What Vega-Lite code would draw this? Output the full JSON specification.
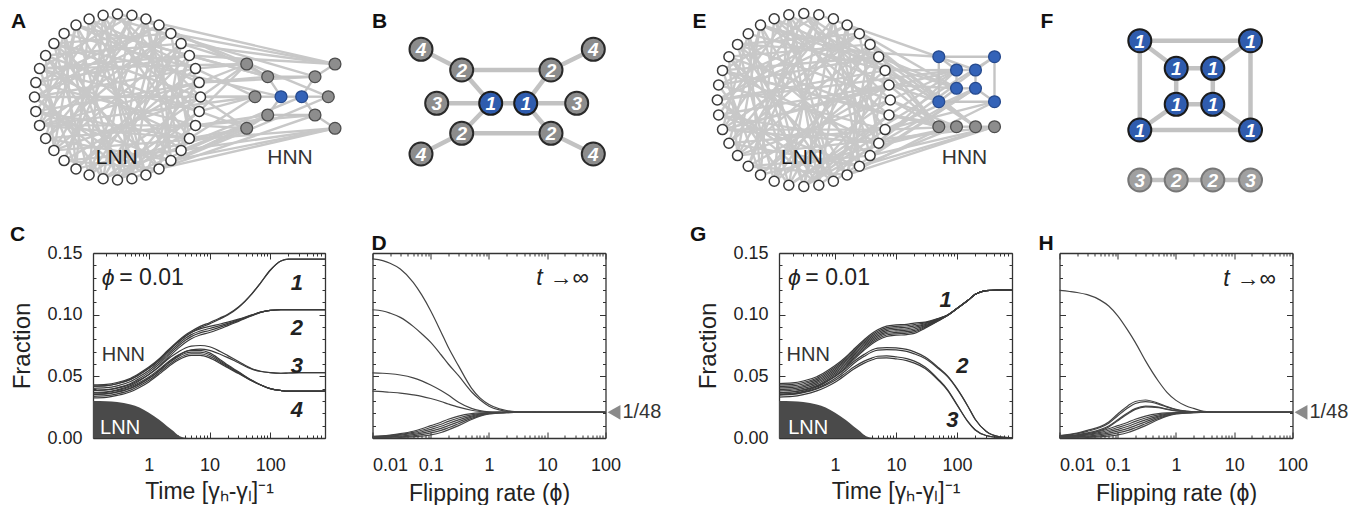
{
"$schema":"https://vega.github.io/schema/vega-lite/v6.json",
"background":"white",
"padding":{"left":10,"top":0,"right":0,"bottom":0},
"config":{
 "font":"Liberation Sans",
 "view":{"stroke":null},
 "axis":{"domainColor":"#333333","domainWidth":1.3,"tickColor":"#333333","tickWidth":1,"labelFontSize":18,"labelColor":"#222222","titleFontSize":23,"titleFontWeight":"normal","titleColor":"#222222","grid":false},
 "title":{"fontSize":21,"fontWeight":"bold","color":"#111111","anchor":"start","frame":"group"}
},
"resolve":{"scale":{"fill":"independent","stroke":"independent"}},
"datasets":{
"nodesA":[{"id":0,"x":200.5,"y":97},{"id":1,"x":199.2,"y":82.6},{"id":2,"x":195.5,"y":68.6},{"id":3,"x":189.4,"y":55.5},{"id":4,"x":181.1,"y":43.6},{"id":5,"x":170.9,"y":33.4},{"id":6,"x":159,"y":25.1},{"id":7,"x":145.9,"y":19},{"id":8,"x":131.9,"y":15.3},{"id":9,"x":117.5,"y":14},{"id":10,"x":103.1,"y":15.3},{"id":11,"x":89.1,"y":19},{"id":12,"x":76,"y":25.1},{"id":13,"x":64.1,"y":33.4},{"id":14,"x":53.9,"y":43.6},{"id":15,"x":45.6,"y":55.5},{"id":16,"x":39.5,"y":68.6},{"id":17,"x":35.8,"y":82.6},{"id":18,"x":34.5,"y":97},{"id":19,"x":35.8,"y":111.4},{"id":20,"x":39.5,"y":125.4},{"id":21,"x":45.6,"y":138.5},{"id":22,"x":53.9,"y":150.4},{"id":23,"x":64.1,"y":160.6},{"id":24,"x":76,"y":168.9},{"id":25,"x":89.1,"y":175},{"id":26,"x":103.1,"y":178.7},{"id":27,"x":117.5,"y":180},{"id":28,"x":131.9,"y":178.7},{"id":29,"x":145.9,"y":175},{"id":30,"x":159,"y":168.9},{"id":31,"x":170.9,"y":160.6},{"id":32,"x":181.1,"y":150.4},{"id":33,"x":189.4,"y":138.5},{"id":34,"x":195.5,"y":125.4},{"id":35,"x":199.2,"y":111.4},
{"id":100,"x":281,"y":96.7,"k":"b"},{"id":101,"x":301.7,"y":96.7,"k":"b"},{"id":102,"x":255,"y":96.7,"k":"g"},{"id":103,"x":328.3,"y":96.7,"k":"g"},{"id":104,"x":267.7,"y":76.7,"k":"g"},{"id":105,"x":267.7,"y":115,"k":"g"},{"id":106,"x":315,"y":76.7,"k":"g"},{"id":107,"x":315,"y":115,"k":"g"},{"id":108,"x":246.7,"y":64,"k":"g"},{"id":109,"x":246.7,"y":128.3,"k":"g"},{"id":110,"x":335,"y":64,"k":"g"},{"id":111,"x":335,"y":128.3,"k":"g"}],
"nodesE":[{"id":0,"x":889.8,"y":100},{"id":1,"x":888.5,"y":85},{"id":2,"x":884.6,"y":70.4},{"id":3,"x":878.2,"y":56.8},{"id":4,"x":869.6,"y":44.4},{"id":5,"x":858.9,"y":33.7},{"id":6,"x":846.6,"y":25.1},{"id":7,"x":832.9,"y":18.7},{"id":8,"x":818.3,"y":14.8},{"id":9,"x":803.3,"y":13.5},{"id":10,"x":788.3,"y":14.8},{"id":11,"x":773.7,"y":18.7},{"id":12,"x":760,"y":25.1},{"id":13,"x":747.7,"y":33.7},{"id":14,"x":737,"y":44.4},{"id":15,"x":728.4,"y":56.8},{"id":16,"x":722,"y":70.4},{"id":17,"x":718.1,"y":85},{"id":18,"x":716.8,"y":100},{"id":19,"x":718.1,"y":115},{"id":20,"x":722,"y":129.6},{"id":21,"x":728.4,"y":143.2},{"id":22,"x":737,"y":155.6},{"id":23,"x":747.7,"y":166.3},{"id":24,"x":760,"y":174.9},{"id":25,"x":773.7,"y":181.3},{"id":26,"x":788.3,"y":185.2},{"id":27,"x":803.3,"y":186.5},{"id":28,"x":818.3,"y":185.2},{"id":29,"x":832.9,"y":181.3},{"id":30,"x":846.6,"y":174.9},{"id":31,"x":858.9,"y":166.3},{"id":32,"x":869.6,"y":155.6},{"id":33,"x":878.2,"y":143.2},{"id":34,"x":884.6,"y":129.6},{"id":35,"x":888.5,"y":115},
{"id":100,"x":938.3,"y":56.7,"k":"b"},{"id":101,"x":994,"y":56.7,"k":"b"},{"id":102,"x":956,"y":70,"k":"b"},{"id":103,"x":975,"y":70,"k":"b"},{"id":104,"x":956,"y":88.3,"k":"b"},{"id":105,"x":975,"y":88.3,"k":"b"},{"id":106,"x":938.3,"y":101.7,"k":"b"},{"id":107,"x":994,"y":101.7,"k":"b"},{"id":108,"x":938.3,"y":126.7,"k":"g"},{"id":109,"x":956,"y":126.7,"k":"g"},{"id":110,"x":975,"y":126.7,"k":"g"},{"id":111,"x":994,"y":126.7,"k":"g"}],
"lnnEdges":[{"s":0,"t":14},{"s":0,"t":22},{"s":1,"t":19},{"s":1,"t":27},{"s":2,"t":11},{"s":2,"t":24},{"s":3,"t":17},{"s":3,"t":30},{"s":4,"t":15},{"s":4,"t":25},{"s":5,"t":20},{"s":5,"t":33},{"s":6,"t":18},{"s":6,"t":28},{"s":7,"t":21},{"s":7,"t":31},{"s":8,"t":16},{"s":8,"t":26},{"s":9,"t":23},{"s":9,"t":34},{"s":10,"t":19},{"s":10,"t":29},{"s":11,"t":24},{"s":11,"t":35},{"s":12,"t":21},{"s":12,"t":30},{"s":13,"t":27},{"s":13,"t":2},{"s":14,"t":25},{"s":14,"t":32},{"s":15,"t":28},{"s":15,"t":35},{"s":16,"t":24},{"s":16,"t":33},{"s":17,"t":26},{"s":17,"t":6},{"s":18,"t":29},{"s":18,"t":5},{"s":19,"t":31},{"s":20,"t":1},{"s":20,"t":9},{"s":21,"t":34},{"s":22,"t":4},{"s":22,"t":12},{"s":23,"t":32},{"s":23,"t":8},{"s":24,"t":3},{"s":25,"t":7},{"s":26,"t":13},{"s":27,"t":35},{"s":28,"t":10},{"s":29,"t":3},{"s":30,"t":15},{"s":31,"t":11},{"s":32,"t":2},{"s":33,"t":20},{"s":34,"t":9},{"s":35,"t":16},{"s":0,"t":9},{"s":4,"t":30},{"s":8,"t":22},{"s":12,"t":27},{"s":16,"t":3},{"s":20,"t":34},{"s":24,"t":13},{"s":28,"t":18},{"s":32,"t":7},{"s":35,"t":26},{"s":1,"t":12},{"s":5,"t":14},{"s":10,"t":25},{"s":19,"t":33},{"s":23,"t":1},{"s":27,"t":6},{"s":31,"t":21},{"s":3,"t":12},{"s":7,"t":27},{"s":11,"t":29},{"s":15,"t":22},{"s":21,"t":5},{"s":25,"t":0},{"s":29,"t":14},{"s":33,"t":10},{"s":2,"t":18},{"s":6,"t":31},{"s":13,"t":20},{"s":17,"t":34},{"s":26,"t":4},{"s":30,"t":23},{"s":34,"t":27},
{"s":0,"t":102},{"s":0,"t":108},{"s":1,"t":108},{"s":1,"t":104},{"s":2,"t":108},{"s":3,"t":110},{"s":35,"t":102},{"s":35,"t":109},{"s":34,"t":109},{"s":34,"t":105},{"s":33,"t":109},{"s":32,"t":111},{"s":4,"t":110},{"s":5,"t":110},{"s":31,"t":111},{"s":30,"t":111},{"s":6,"t":104},{"s":29,"t":105},{"s":2,"t":102},{"s":33,"t":102},{"s":3,"t":104},{"s":32,"t":105},{"s":0,"t":109},{"s":35,"t":108},{"s":1,"t":106},{"s":34,"t":107},{"s":4,"t":108},{"s":31,"t":109},{"s":20,"t":102},{"s":16,"t":108},{"s":24,"t":109},{"s":12,"t":104},{"s":27,"t":105},{"s":9,"t":110},{"s":18,"t":102},{"s":22,"t":111},{"s":14,"t":100},{"s":26,"t":101},{"s":8,"t":103},{"s":28,"t":103},{"s":10,"t":106},{"s":30,"t":107}],
"hnnEdgesA":[{"s":100,"t":101},{"s":100,"t":102},{"s":100,"t":104},{"s":100,"t":105},{"s":101,"t":103},{"s":101,"t":106},{"s":101,"t":107},{"s":104,"t":106},{"s":105,"t":107},{"s":104,"t":108},{"s":105,"t":109},{"s":106,"t":110},{"s":107,"t":111}],
"hnnEdgesE":[{"s":100,"t":101},{"s":101,"t":107},{"s":107,"t":106},{"s":106,"t":100},{"s":102,"t":103},{"s":103,"t":105},{"s":105,"t":104},{"s":104,"t":102},{"s":100,"t":102},{"s":101,"t":103},{"s":106,"t":104},{"s":107,"t":105},{"s":108,"t":109},{"s":109,"t":110},{"s":110,"t":111}],
"nodesB":[{"id":1,"x":421,"y":49.3,"k":"g","lab":"4"},{"id":2,"x":461.7,"y":70,"k":"g","lab":"2"},{"id":3,"x":436.7,"y":103.3,"k":"g","lab":"3"},{"id":4,"x":490.7,"y":103.3,"k":"b","lab":"1"},{"id":5,"x":525.7,"y":103.3,"k":"b","lab":"1"},{"id":6,"x":576.7,"y":103.3,"k":"g","lab":"3"},{"id":7,"x":551,"y":70,"k":"g","lab":"2"},{"id":8,"x":593.3,"y":49.3,"k":"g","lab":"4"},{"id":9,"x":461.7,"y":133.3,"k":"g","lab":"2"},{"id":10,"x":421,"y":154,"k":"g","lab":"4"},{"id":11,"x":551,"y":133.3,"k":"g","lab":"2"},{"id":12,"x":593.3,"y":154,"k":"g","lab":"4"}],
"edgesB":[{"s":4,"t":5},{"s":3,"t":4},{"s":4,"t":2},{"s":4,"t":9},{"s":5,"t":6},{"s":5,"t":7},{"s":5,"t":11},{"s":2,"t":7},{"s":9,"t":11},{"s":1,"t":2},{"s":9,"t":10},{"s":7,"t":8},{"s":11,"t":12}],
"nodesF":[{"id":1,"x":1139.3,"y":40.7,"k":"b","lab":"1"},{"id":2,"x":1250,"y":40.7,"k":"b","lab":"1"},{"id":3,"x":1175.7,"y":68.3,"k":"b","lab":"1"},{"id":4,"x":1212.3,"y":68.3,"k":"b","lab":"1"},{"id":5,"x":1175.7,"y":104.3,"k":"b","lab":"1"},{"id":6,"x":1212.3,"y":104.3,"k":"b","lab":"1"},{"id":7,"x":1139.3,"y":130,"k":"b","lab":"1"},{"id":8,"x":1250,"y":130,"k":"b","lab":"1"},{"id":9,"x":1139.3,"y":180,"k":"w","lab":"3"},{"id":10,"x":1175.7,"y":180,"k":"w","lab":"2"},{"id":11,"x":1212.3,"y":180,"k":"w","lab":"2"},{"id":12,"x":1250,"y":180,"k":"w","lab":"3"}],
"edgesF":[{"s":1,"t":2},{"s":2,"t":8},{"s":8,"t":7},{"s":7,"t":1},{"s":3,"t":4},{"s":4,"t":6},{"s":6,"t":5},{"s":5,"t":3},{"s":1,"t":3},{"s":2,"t":4},{"s":7,"t":5},{"s":8,"t":6},{"s":9,"t":10},{"s":10,"t":11},{"s":11,"t":12}],
"lnnT":[{"t":0.12,"v":0.03},{"t":0.2,"v":0.0298},{"t":0.3,"v":0.0292},{"t":0.5,"v":0.0272},{"t":0.7,"v":0.0247},{"t":1,"v":0.0205},{"t":1.5,"v":0.0145},{"t":2,"v":0.0095},{"t":2.5,"v":0.0058},{"t":3,"v":0.0025},{"t":3.5,"v":0.0009},{"t":4,"v":0.0002},{"t":5,"v":0},{"t":800,"v":0}],
"cT":[
{"t":0.12,"a":0.043,"b":0.042,"c":0.042,"d":0.0403,"e":0.0387,"f":0.037,"g":0.0385,"h":0.0355,"i":0.0365,"j":0.0352,"k":0.0338,"l":0.0325},
{"t":0.2,"a":0.0435,"b":0.0425,"c":0.0425,"d":0.0408,"e":0.0392,"f":0.0375,"g":0.039,"h":0.036,"i":0.037,"j":0.0357,"k":0.0343,"l":0.033},
{"t":0.3,"a":0.045,"b":0.044,"c":0.044,"d":0.0423,"e":0.0407,"f":0.039,"g":0.0405,"h":0.0375,"i":0.0385,"j":0.0372,"k":0.0358,"l":0.0345},
{"t":0.5,"a":0.0485,"b":0.0475,"c":0.0475,"d":0.0458,"e":0.0442,"f":0.0425,"g":0.0435,"h":0.0405,"i":0.0415,"j":0.0402,"k":0.0388,"l":0.0375},
{"t":0.7,"a":0.0525,"b":0.0515,"c":0.0515,"d":0.0498,"e":0.0482,"f":0.0465,"g":0.047,"h":0.044,"i":0.045,"j":0.0437,"k":0.0423,"l":0.041},
{"t":1,"a":0.0575,"b":0.0565,"c":0.0565,"d":0.0548,"e":0.0532,"f":0.0515,"g":0.0515,"h":0.0485,"i":0.0495,"j":0.0482,"k":0.0468,"l":0.0455},
{"t":1.5,"a":0.0645,"b":0.0635,"c":0.0635,"d":0.0618,"e":0.0602,"f":0.0585,"g":0.058,"h":0.055,"i":0.056,"j":0.0547,"k":0.0533,"l":0.052},
{"t":2,"a":0.0705,"b":0.0695,"c":0.0695,"d":0.0678,"e":0.0662,"f":0.0645,"g":0.0635,"h":0.0605,"i":0.061,"j":0.0597,"k":0.0583,"l":0.057},
{"t":3,"a":0.0785,"b":0.0775,"c":0.0775,"d":0.0758,"e":0.0742,"f":0.0725,"g":0.0695,"h":0.0665,"i":0.067,"j":0.0657,"k":0.0643,"l":0.063},
{"t":4,"a":0.0835,"b":0.0825,"c":0.0825,"d":0.0808,"e":0.0792,"f":0.0775,"g":0.073,"h":0.07,"i":0.07,"j":0.0687,"k":0.0673,"l":0.066},
{"t":5,"a":0.0865,"b":0.0855,"c":0.0855,"d":0.0838,"e":0.0822,"f":0.0805,"g":0.0745,"h":0.0715,"i":0.071,"j":0.0697,"k":0.0683,"l":0.067},
{"t":7,"a":0.0905,"b":0.0895,"c":0.0885,"d":0.0868,"e":0.0852,"f":0.0835,"g":0.075,"h":0.072,"i":0.071,"j":0.0697,"k":0.0683,"l":0.067},
{"t":10,"a":0.0935,"b":0.0925,"c":0.0905,"d":0.0888,"e":0.0872,"f":0.0855,"g":0.074,"h":0.071,"i":0.069,"j":0.0677,"k":0.0663,"l":0.065},
{"t":15,"a":0.0974,"b":0.0966,"c":0.0924,"d":0.0911,"e":0.0899,"f":0.0886,"g":0.0701,"h":0.0679,"i":0.0635,"j":0.0625,"k":0.0615,"l":0.0605},
{"t":20,"a":0.1003,"b":0.0997,"c":0.0939,"d":0.0929,"e":0.0921,"f":0.0911,"g":0.0668,"h":0.0652,"i":0.0591,"j":0.0584,"k":0.0576,"l":0.0569},
{"t":30,"a":0.1062,"b":0.1058,"c":0.0964,"d":0.0958,"e":0.0952,"f":0.0946,"g":0.062,"h":0.061,"i":0.0537,"j":0.0532,"k":0.0528,"l":0.0523},
{"t":50,"a":0.1171,"b":0.1169,"c":0.0999,"d":0.0996,"e":0.0994,"f":0.0991,"g":0.0562,"h":0.0558,"i":0.0468,"j":0.0466,"k":0.0464,"l":0.0462},
{"t":70,"a":0.126,"b":0.126,"c":0.1021,"d":0.102,"e":0.102,"f":0.1019,"g":0.0541,"h":0.0539,"i":0.043,"j":0.043,"k":0.043,"l":0.043},
{"t":100,"a":0.136,"b":0.136,"c":0.1035,"d":0.1035,"e":0.1035,"f":0.1035,"g":0.053,"h":0.053,"i":0.04,"j":0.04,"k":0.04,"l":0.04},
{"t":150,"a":0.1435,"b":0.1435,"c":0.104,"d":0.104,"e":0.104,"f":0.104,"g":0.0525,"h":0.0525,"i":0.0385,"j":0.0385,"k":0.0385,"l":0.0385},
{"t":200,"a":0.145,"b":0.145,"c":0.104,"d":0.104,"e":0.104,"f":0.104,"g":0.0527,"h":0.0527,"i":0.038,"j":0.038,"k":0.038,"l":0.038},
{"t":300,"a":0.145,"b":0.145,"c":0.104,"d":0.104,"e":0.104,"f":0.104,"g":0.053,"h":0.053,"i":0.038,"j":0.038,"k":0.038,"l":0.038},
{"t":500,"a":0.145,"b":0.145,"c":0.104,"d":0.104,"e":0.104,"f":0.104,"g":0.053,"h":0.053,"i":0.038,"j":0.038,"k":0.038,"l":0.038},
{"t":800,"a":0.145,"b":0.145,"c":0.104,"d":0.104,"e":0.104,"f":0.104,"g":0.053,"h":0.053,"i":0.038,"j":0.038,"k":0.038,"l":0.038}],
"gT":[
{"t":0.12,"a":0.0442,"b":0.043,"c":0.0418,"d":0.0406,"e":0.0394,"f":0.0382,"g":0.037,"h":0.0358,"i":0.0368,"j":0.0352,"k":0.0348,"l":0.0332},
{"t":0.2,"a":0.0447,"b":0.0435,"c":0.0423,"d":0.0411,"e":0.0399,"f":0.0387,"g":0.0375,"h":0.0363,"i":0.0373,"j":0.0357,"k":0.0353,"l":0.0337},
{"t":0.3,"a":0.0462,"b":0.045,"c":0.0438,"d":0.0426,"e":0.0414,"f":0.0402,"g":0.039,"h":0.0378,"i":0.0388,"j":0.0372,"k":0.0368,"l":0.0352},
{"t":0.5,"a":0.0497,"b":0.0485,"c":0.0473,"d":0.0461,"e":0.0449,"f":0.0437,"g":0.0425,"h":0.0413,"i":0.0418,"j":0.0402,"k":0.0398,"l":0.0382},
{"t":0.7,"a":0.0537,"b":0.0525,"c":0.0513,"d":0.0501,"e":0.0489,"f":0.0477,"g":0.0465,"h":0.0453,"i":0.0453,"j":0.0437,"k":0.0428,"l":0.0412},
{"t":1,"a":0.0587,"b":0.0575,"c":0.0563,"d":0.0551,"e":0.0539,"f":0.0527,"g":0.0515,"h":0.0503,"i":0.0498,"j":0.0482,"k":0.0468,"l":0.0452},
{"t":1.5,"a":0.0657,"b":0.0645,"c":0.0633,"d":0.0621,"e":0.0609,"f":0.0597,"g":0.0585,"h":0.0573,"i":0.0563,"j":0.0547,"k":0.0528,"l":0.0512},
{"t":2,"a":0.0717,"b":0.0705,"c":0.0693,"d":0.0681,"e":0.0669,"f":0.0657,"g":0.0645,"h":0.0633,"i":0.0618,"j":0.0602,"k":0.0573,"l":0.0557},
{"t":3,"a":0.0797,"b":0.0785,"c":0.0773,"d":0.0761,"e":0.0749,"f":0.0737,"g":0.0725,"h":0.0713,"i":0.0678,"j":0.0662,"k":0.0623,"l":0.0607},
{"t":4,"a":0.0847,"b":0.0835,"c":0.0823,"d":0.0811,"e":0.0799,"f":0.0787,"g":0.0775,"h":0.0763,"i":0.0713,"j":0.0697,"k":0.0648,"l":0.0632},
{"t":5,"a":0.0877,"b":0.0865,"c":0.0853,"d":0.0841,"e":0.0829,"f":0.0817,"g":0.0805,"h":0.0793,"i":0.0728,"j":0.0712,"k":0.0663,"l":0.0647},
{"t":7,"a":0.0907,"b":0.0895,"c":0.0883,"d":0.0871,"e":0.0859,"f":0.0847,"g":0.0835,"h":0.0823,"i":0.0733,"j":0.0717,"k":0.0666,"l":0.065},
{"t":10,"a":0.0917,"b":0.0905,"c":0.0893,"d":0.0881,"e":0.0869,"f":0.0857,"g":0.0845,"h":0.0833,"i":0.073,"j":0.0714,"k":0.0658,"l":0.0642},
{"t":15,"a":0.0922,"b":0.091,"c":0.0898,"d":0.0886,"e":0.0874,"f":0.0862,"g":0.085,"h":0.0838,"i":0.0718,"j":0.0702,"k":0.0643,"l":0.0627},
{"t":20,"a":0.0932,"b":0.092,"c":0.0908,"d":0.0896,"e":0.0884,"f":0.0872,"g":0.086,"h":0.0848,"i":0.0698,"j":0.0682,"k":0.0623,"l":0.0607},
{"t":30,"a":0.094,"b":0.0933,"c":0.0926,"d":0.0919,"e":0.0911,"f":0.0904,"g":0.0897,"h":0.089,"i":0.0656,"j":0.0644,"k":0.0576,"l":0.0564},
{"t":50,"a":0.0971,"b":0.0968,"c":0.0965,"d":0.0962,"e":0.0959,"f":0.0956,"g":0.0953,"h":0.095,"i":0.0569,"j":0.0561,"k":0.0474,"l":0.0466},
{"t":70,"a":0.0997,"b":0.0997,"c":0.0996,"d":0.0995,"e":0.0995,"f":0.0994,"g":0.0994,"h":0.0993,"i":0.0503,"j":0.0497,"k":0.0393,"l":0.0387},
{"t":100,"a":0.105,"b":0.105,"c":0.105,"d":0.105,"e":0.105,"f":0.105,"g":0.105,"h":0.105,"i":0.0402,"j":0.0398,"k":0.0272,"l":0.0268},
{"t":150,"a":0.1115,"b":0.1115,"c":0.1115,"d":0.1115,"e":0.1115,"f":0.1115,"g":0.1115,"h":0.1115,"i":0.026,"j":0.026,"k":0.0135,"l":0.0135},
{"t":200,"a":0.1165,"b":0.1165,"c":0.1165,"d":0.1165,"e":0.1165,"f":0.1165,"g":0.1165,"h":0.1165,"i":0.015,"j":0.015,"k":0.0065,"l":0.0065},
{"t":300,"a":0.1195,"b":0.1195,"c":0.1195,"d":0.1195,"e":0.1195,"f":0.1195,"g":0.1195,"h":0.1195,"i":0.0055,"j":0.0055,"k":0.002,"l":0.002},
{"t":500,"a":0.12,"b":0.12,"c":0.12,"d":0.12,"e":0.12,"f":0.12,"g":0.12,"h":0.12,"i":0.001,"j":0.001,"k":0.0003,"l":0.0003},
{"t":800,"a":0.12,"b":0.12,"c":0.12,"d":0.12,"e":0.12,"f":0.12,"g":0.12,"h":0.12,"i":0.0002,"j":0.0002,"k":0,"l":0}],
"dP":[
{"p":0.01,"c1":0.1452,"c2":0.104,"c3":0.0528,"c4":0.038},
{"p":0.015,"c1":0.1438,"c2":0.103,"c3":0.0525,"c4":0.0376},
{"p":0.02,"c1":0.1417,"c2":0.1012,"c3":0.0521,"c4":0.0371},
{"p":0.03,"c1":0.137,"c2":0.0978,"c3":0.0511,"c4":0.0364},
{"p":0.05,"c1":0.1262,"c2":0.0905,"c3":0.0488,"c4":0.035},
{"p":0.07,"c1":0.116,"c2":0.0845,"c3":0.0463,"c4":0.0338},
{"p":0.1,"c1":0.103,"c2":0.0775,"c3":0.043,"c4":0.032},
{"p":0.15,"c1":0.086,"c2":0.0675,"c3":0.0385,"c4":0.0296},
{"p":0.2,"c1":0.0735,"c2":0.06,"c3":0.0348,"c4":0.0276},
{"p":0.3,"c1":0.0585,"c2":0.0505,"c3":0.029,"c4":0.025},
{"p":0.5,"c1":0.0405,"c2":0.0375,"c3":0.024,"c4":0.0225},
{"p":0.7,"c1":0.0325,"c2":0.031,"c3":0.0222,"c4":0.0215},
{"p":1,"c1":0.0272,"c2":0.0258,"c3":0.0213,"c4":0.021},
{"p":1.5,"c1":0.0237,"c2":0.0228,"c3":0.021,"c4":0.0209},
{"p":2,"c1":0.0223,"c2":0.0217,"c3":0.0209,"c4":0.0208},
{"p":3,"c1":0.0213,"c2":0.0211,"c3":0.0208,"c4":0.0208},
{"p":5,"c1":0.0209,"c2":0.0209,"c3":0.0208,"c4":0.0208},
{"p":10,"c1":0.0208,"c2":0.0208,"c3":0.0208,"c4":0.0208},
{"p":100,"c1":0.0208,"c2":0.0208,"c3":0.0208,"c4":0.0208}],
"hP":[
{"p":0.01,"c1":0.1197,"c2a":0.002,"c2b":0.0017,"c3a":0.0012,"c3b":0.0009},
{"p":0.015,"c1":0.1188,"c2a":0.003,"c2b":0.0026,"c3a":0.0019,"c3b":0.0015},
{"p":0.02,"c1":0.118,"c2a":0.004,"c2b":0.0035,"c3a":0.0026,"c3b":0.0021},
{"p":0.03,"c1":0.1162,"c2a":0.0062,"c2b":0.0054,"c3a":0.0041,"c3b":0.0035},
{"p":0.05,"c1":0.1118,"c2a":0.0092,"c2b":0.0085,"c3a":0.0068,"c3b":0.006},
{"p":0.07,"c1":0.107,"c2a":0.013,"c2b":0.012,"c3a":0.0098,"c3b":0.009},
{"p":0.1,"c1":0.099,"c2a":0.0195,"c2b":0.018,"c3a":0.0148,"c3b":0.014},
{"p":0.15,"c1":0.087,"c2a":0.0262,"c2b":0.0245,"c3a":0.0205,"c3b":0.0197},
{"p":0.2,"c1":0.0775,"c2a":0.0296,"c2b":0.028,"c3a":0.0238,"c3b":0.0232},
{"p":0.3,"c1":0.0625,"c2a":0.0308,"c2b":0.0295,"c3a":0.0258,"c3b":0.0253},
{"p":0.5,"c1":0.046,"c2a":0.0282,"c2b":0.0275,"c3a":0.025,"c3b":0.0246},
{"p":0.7,"c1":0.037,"c2a":0.0255,"c2b":0.025,"c3a":0.0235,"c3b":0.0232},
{"p":1,"c1":0.0305,"c2a":0.0232,"c2b":0.0229,"c3a":0.0222,"c3b":0.022},
{"p":1.5,"c1":0.026,"c2a":0.0218,"c2b":0.0217,"c3a":0.0213,"c3b":0.0212},
{"p":2,"c1":0.024,"c2a":0.0213,"c2b":0.0212,"c3a":0.021,"c3b":0.021},
{"p":3,"c1":0.0217,"c2a":0.021,"c2b":0.0209,"c3a":0.0209,"c3b":0.0209},
{"p":5,"c1":0.021,"c2a":0.0208,"c2b":0.0208,"c3a":0.0208,"c3b":0.0208},
{"p":10,"c1":0.0208,"c2a":0.0208,"c2b":0.0208,"c3a":0.0208,"c3b":0.0208},
{"p":100,"c1":0.0208,"c2a":0.0208,"c2b":0.0208,"c3a":0.0208,"c3b":0.0208}],
"lnnP":[
{"p":0.01,"l1":0.0013,"l2":0.0011,"l3":0.0008,"l4":0.0006,"l5":0.0003,"l6":0.0001},
{"p":0.015,"l1":0.0018,"l2":0.0015,"l3":0.0011,"l4":0.0008,"l5":0.0005,"l6":0.0002},
{"p":0.02,"l1":0.0024,"l2":0.002,"l3":0.0015,"l4":0.0011,"l5":0.0006,"l6":0.0002},
{"p":0.03,"l1":0.0035,"l2":0.0029,"l3":0.0023,"l4":0.0016,"l5":0.001,"l6":0.0004},
{"p":0.05,"l1":0.0055,"l2":0.0046,"l3":0.0037,"l4":0.0027,"l5":0.0018,"l6":0.0009},
{"p":0.07,"l1":0.0075,"l2":0.0063,"l3":0.0051,"l4":0.0039,"l5":0.0027,"l6":0.0015},
{"p":0.1,"l1":0.01,"l2":0.0085,"l3":0.007,"l4":0.0056,"l5":0.0041,"l6":0.0026},
{"p":0.15,"l1":0.0128,"l2":0.0111,"l3":0.0095,"l4":0.0078,"l5":0.0062,"l6":0.0045},
{"p":0.2,"l1":0.0152,"l2":0.0135,"l3":0.0118,"l4":0.01,"l5":0.0083,"l6":0.0066},
{"p":0.3,"l1":0.0178,"l2":0.0162,"l3":0.0147,"l4":0.0131,"l5":0.0116,"l6":0.01},
{"p":0.5,"l1":0.0197,"l2":0.0188,"l3":0.0178,"l4":0.0169,"l5":0.0159,"l6":0.015},
{"p":0.7,"l1":0.0203,"l2":0.0198,"l3":0.0193,"l4":0.0187,"l5":0.0182,"l6":0.0177},
{"p":1,"l1":0.0206,"l2":0.0204,"l3":0.0202,"l4":0.0199,"l5":0.0197,"l6":0.0195},
{"p":1.5,"l1":0.0207,"l2":0.0206,"l3":0.0205,"l4":0.0205,"l5":0.0204,"l6":0.0203},
{"p":2,"l1":0.0208,"l2":0.0208,"l3":0.0207,"l4":0.0207,"l5":0.0206,"l6":0.0206},
{"p":3,"l1":0.0208,"l2":0.0208,"l3":0.0208,"l4":0.0207,"l5":0.0207,"l6":0.0207},
{"p":5,"l1":0.0208,"l2":0.0208,"l3":0.0208,"l4":0.0208,"l5":0.0208,"l6":0.0208},
{"p":100,"l1":0.0208,"l2":0.0208,"l3":0.0208,"l4":0.0208,"l5":0.0208,"l6":0.0208}]
},
"columns":4,
"spacing":{"row":48,"column":47.5},
"align":"each",
"bounds":"flush",
"concat":[
{"width":232,"height":205,
 "layer":[
  {"data":{"name":"lnnEdges"},"transform":[{"lookup":"s","from":{"data":{"name":"nodesA"},"key":"id","fields":["x","y"]},"as":["x1","y1"]},{"lookup":"t","from":{"data":{"name":"nodesA"},"key":"id","fields":["x","y"]},"as":["x2","y2"]}],
   "mark":{"type":"rule","color":"#c8c8c8","strokeWidth":2.4},
   "encoding":{"x":{"field":"x1","type":"quantitative","scale":{"domain":[93,325],"nice":false,"zero":false},"axis":null},"y":{"field":"y1","type":"quantitative","scale":{"domain":[0,205],"nice":false,"zero":false,"reverse":true},"axis":null},"x2":{"field":"x2"},"y2":{"field":"y2"}}},
  {"data":{"name":"hnnEdgesA"},"transform":[{"lookup":"s","from":{"data":{"name":"nodesA"},"key":"id","fields":["x","y"]},"as":["x1","y1"]},{"lookup":"t","from":{"data":{"name":"nodesA"},"key":"id","fields":["x","y"]},"as":["x2","y2"]}],
   "mark":{"type":"rule","color":"#c4c4c4","strokeWidth":2.4},
   "encoding":{"x":{"field":"x1","type":"quantitative","scale":{"domain":[93,325],"nice":false,"zero":false},"axis":null},"y":{"field":"y1","type":"quantitative","scale":{"domain":[0,205],"nice":false,"zero":false,"reverse":true},"axis":null},"x2":{"field":"x2"},"y2":{"field":"y2"}}},
  {"data":{"name":"nodesA"},"transform":[{"filter":"datum.id < 100"}],
   "mark":{"type":"point","shape":"circle","filled":true,"fill":"#ffffff","stroke":"#3a3a3a","strokeWidth":1.5,"size":100,"opacity":1},
   "encoding":{"x":{"field":"x","type":"quantitative","scale":{"domain":[93,325],"nice":false,"zero":false},"axis":null},"y":{"field":"y","type":"quantitative","scale":{"domain":[0,205],"nice":false,"zero":false,"reverse":true},"axis":null}}},
  {"data":{"name":"nodesA"},"transform":[{"filter":"datum.id >= 100"}],
   "mark":{"type":"point","shape":"circle","filled":true,"strokeWidth":1.3,"size":140,"opacity":1},
   "encoding":{"x":{"field":"x","type":"quantitative","scale":{"domain":[93,325],"nice":false,"zero":false},"axis":null},"y":{"field":"y","type":"quantitative","scale":{"domain":[0,205],"nice":false,"zero":false,"reverse":true},"axis":null},
    "fill":{"field":"k","type":"nominal","scale":{"domain":["b","g"],"range":["#3463b8","#8d8d8d"]},"legend":null},
    "stroke":{"field":"k","type":"nominal","scale":{"domain":["b","g"],"range":["#264a8e","#4d4d4d"]},"legend":null}}},
  {"data":{"values":[{}]},"mark":{"type":"text","text":"LNN","fontSize":21,"color":"#1a1a1a","align":"center","baseline":"middle"},
   "encoding":{"x":{"datum":116.7,"type":"quantitative","scale":{"domain":[93,325],"nice":false,"zero":false},"axis":null},"y":{"datum":157.5,"type":"quantitative","scale":{"domain":[0,205],"nice":false,"zero":false,"reverse":true},"axis":null}}},
  {"data":{"values":[{}]},"mark":{"type":"text","text":"HNN","fontSize":21,"color":"#333333","align":"center","baseline":"middle"},
   "encoding":{"x":{"datum":290,"type":"quantitative","scale":{"domain":[93,325],"nice":false,"zero":false},"axis":null},"y":{"datum":157.5,"type":"quantitative","scale":{"domain":[0,205],"nice":false,"zero":false,"reverse":true},"axis":null}}},
  {"data":{"values":[{}]},"mark":{"type":"text","text":"A","fontSize":21,"fontWeight":"bold","color":"#111111","align":"left","baseline":"alphabetic"},
   "encoding":{"x":{"datum":11,"type":"quantitative","scale":{"domain":[93,325],"nice":false,"zero":false},"axis":null},"y":{"datum":28,"type":"quantitative","scale":{"domain":[0,205],"nice":false,"zero":false,"reverse":true},"axis":null}}}
 ]},
{"width":358.5,"height":205,
 "layer":[
  {"data":{"name":"edgesB"},"transform":[{"lookup":"s","from":{"data":{"name":"nodesB"},"key":"id","fields":["x","y"]},"as":["x1","y1"]},{"lookup":"t","from":{"data":{"name":"nodesB"},"key":"id","fields":["x","y"]},"as":["x2","y2"]}],
   "mark":{"type":"rule","color":"#c2c2c2","strokeWidth":4.5},
   "encoding":{"x":{"field":"x1","type":"quantitative","scale":{"domain":[372.5,731],"nice":false,"zero":false},"axis":null},"y":{"field":"y1","type":"quantitative","scale":{"domain":[0,205],"nice":false,"zero":false,"reverse":true},"axis":null},"x2":{"field":"x2"},"y2":{"field":"y2"}}},
  {"data":{"name":"nodesB"},
   "mark":{"type":"point","shape":"circle","filled":true,"strokeWidth":2,"size":530,"opacity":1},
   "encoding":{"x":{"field":"x","type":"quantitative","scale":{"domain":[372.5,731],"nice":false,"zero":false},"axis":null},"y":{"field":"y","type":"quantitative","scale":{"domain":[0,205],"nice":false,"zero":false,"reverse":true},"axis":null},
    "fill":{"field":"k","type":"nominal","scale":{"domain":["b","g"],"range":["#2f5cae","#8c8c8c"]},"legend":null},
    "stroke":{"field":"k","type":"nominal","scale":{"domain":["b","g"],"range":["#1c1c1c","#2a2a2a"]},"legend":null}}},
  {"data":{"name":"nodesB"},
   "mark":{"type":"text","fontSize":19,"fontWeight":"bold","fontStyle":"italic","color":"#ffffff","align":"center","baseline":"middle","dy":1},
   "encoding":{"x":{"field":"x","type":"quantitative","scale":{"domain":[372.5,731],"nice":false,"zero":false},"axis":null},"y":{"field":"y","type":"quantitative","scale":{"domain":[0,205],"nice":false,"zero":false,"reverse":true},"axis":null},"text":{"field":"lab"}}},
  {"data":{"values":[{}]},"mark":{"type":"text","text":"B","fontSize":21,"fontWeight":"bold","color":"#111111","align":"left","baseline":"alphabetic"},
   "encoding":{"x":{"datum":372,"type":"quantitative","scale":{"domain":[372.5,731],"nice":false,"zero":false},"axis":null},"y":{"datum":28,"type":"quantitative","scale":{"domain":[0,205],"nice":false,"zero":false,"reverse":true},"axis":null}}}
 ]},
{"width":233,"height":205,
 "layer":[
  {"data":{"name":"lnnEdges"},"transform":[{"lookup":"s","from":{"data":{"name":"nodesE"},"key":"id","fields":["x","y"]},"as":["x1","y1"]},{"lookup":"t","from":{"data":{"name":"nodesE"},"key":"id","fields":["x","y"]},"as":["x2","y2"]}],
   "mark":{"type":"rule","color":"#c8c8c8","strokeWidth":2.4},
   "encoding":{"x":{"field":"x1","type":"quantitative","scale":{"domain":[778.5,1011.5],"nice":false,"zero":false},"axis":null},"y":{"field":"y1","type":"quantitative","scale":{"domain":[0,205],"nice":false,"zero":false,"reverse":true},"axis":null},"x2":{"field":"x2"},"y2":{"field":"y2"}}},
  {"data":{"name":"hnnEdgesE"},"transform":[{"lookup":"s","from":{"data":{"name":"nodesE"},"key":"id","fields":["x","y"]},"as":["x1","y1"]},{"lookup":"t","from":{"data":{"name":"nodesE"},"key":"id","fields":["x","y"]},"as":["x2","y2"]}],
   "mark":{"type":"rule","color":"#c4c4c4","strokeWidth":2.4},
   "encoding":{"x":{"field":"x1","type":"quantitative","scale":{"domain":[778.5,1011.5],"nice":false,"zero":false},"axis":null},"y":{"field":"y1","type":"quantitative","scale":{"domain":[0,205],"nice":false,"zero":false,"reverse":true},"axis":null},"x2":{"field":"x2"},"y2":{"field":"y2"}}},
  {"data":{"name":"nodesE"},"transform":[{"filter":"datum.id < 100"}],
   "mark":{"type":"point","shape":"circle","filled":true,"fill":"#ffffff","stroke":"#3a3a3a","strokeWidth":1.5,"size":100,"opacity":1},
   "encoding":{"x":{"field":"x","type":"quantitative","scale":{"domain":[778.5,1011.5],"nice":false,"zero":false},"axis":null},"y":{"field":"y","type":"quantitative","scale":{"domain":[0,205],"nice":false,"zero":false,"reverse":true},"axis":null}}},
  {"data":{"name":"nodesE"},"transform":[{"filter":"datum.id >= 100"}],
   "mark":{"type":"point","shape":"circle","filled":true,"strokeWidth":1.3,"size":140,"opacity":1},
   "encoding":{"x":{"field":"x","type":"quantitative","scale":{"domain":[778.5,1011.5],"nice":false,"zero":false},"axis":null},"y":{"field":"y","type":"quantitative","scale":{"domain":[0,205],"nice":false,"zero":false,"reverse":true},"axis":null},
    "fill":{"field":"k","type":"nominal","scale":{"domain":["b","g"],"range":["#3463b8","#8d8d8d"]},"legend":null},
    "stroke":{"field":"k","type":"nominal","scale":{"domain":["b","g"],"range":["#264a8e","#4d4d4d"]},"legend":null}}},
  {"data":{"values":[{}]},"mark":{"type":"text","text":"LNN","fontSize":21,"color":"#1a1a1a","align":"center","baseline":"middle"},
   "encoding":{"x":{"datum":801.5,"type":"quantitative","scale":{"domain":[778.5,1011.5],"nice":false,"zero":false},"axis":null},"y":{"datum":158.3,"type":"quantitative","scale":{"domain":[0,205],"nice":false,"zero":false,"reverse":true},"axis":null}}},
  {"data":{"values":[{}]},"mark":{"type":"text","text":"HNN","fontSize":21,"color":"#333333","align":"center","baseline":"middle"},
   "encoding":{"x":{"datum":964,"type":"quantitative","scale":{"domain":[778.5,1011.5],"nice":false,"zero":false},"axis":null},"y":{"datum":158.3,"type":"quantitative","scale":{"domain":[0,205],"nice":false,"zero":false,"reverse":true},"axis":null}}},
  {"data":{"values":[{}]},"mark":{"type":"text","text":"E","fontSize":21,"fontWeight":"bold","color":"#111111","align":"left","baseline":"alphabetic"},
   "encoding":{"x":{"datum":692,"type":"quantitative","scale":{"domain":[778.5,1011.5],"nice":false,"zero":false},"axis":null},"y":{"datum":28,"type":"quantitative","scale":{"domain":[0,205],"nice":false,"zero":false,"reverse":true},"axis":null}}}
 ]},
{"width":233,"height":205,
 "layer":[
  {"data":{"name":"edgesF"},"transform":[{"lookup":"s","from":{"data":{"name":"nodesF"},"key":"id","fields":["x","y"]},"as":["x1","y1"]},{"lookup":"t","from":{"data":{"name":"nodesF"},"key":"id","fields":["x","y"]},"as":["x2","y2"]}],
   "mark":{"type":"rule","color":"#c2c2c2","strokeWidth":4.5},
   "encoding":{"x":{"field":"x1","type":"quantitative","scale":{"domain":[1059,1292],"nice":false,"zero":false},"axis":null},"y":{"field":"y1","type":"quantitative","scale":{"domain":[0,205],"nice":false,"zero":false,"reverse":true},"axis":null},"x2":{"field":"x2"},"y2":{"field":"y2"}}},
  {"data":{"name":"nodesF"},
   "mark":{"type":"point","shape":"circle","filled":true,"strokeWidth":2,"size":530,"opacity":1},
   "encoding":{"x":{"field":"x","type":"quantitative","scale":{"domain":[1059,1292],"nice":false,"zero":false},"axis":null},"y":{"field":"y","type":"quantitative","scale":{"domain":[0,205],"nice":false,"zero":false,"reverse":true},"axis":null},
    "fill":{"field":"k","type":"nominal","scale":{"domain":["b","w"],"range":["#2f5cae","#a0a0a0"]},"legend":null},
    "stroke":{"field":"k","type":"nominal","scale":{"domain":["b","w"],"range":["#1c1c1c","#777777"]},"legend":null}}},
  {"data":{"name":"nodesF"},
   "mark":{"type":"text","fontSize":19,"fontWeight":"bold","fontStyle":"italic","color":"#ffffff","align":"center","baseline":"middle","dy":1},
   "encoding":{"x":{"field":"x","type":"quantitative","scale":{"domain":[1059,1292],"nice":false,"zero":false},"axis":null},"y":{"field":"y","type":"quantitative","scale":{"domain":[0,205],"nice":false,"zero":false,"reverse":true},"axis":null},"text":{"field":"lab"}}},
  {"data":{"values":[{}]},"mark":{"type":"text","text":"F","fontSize":21,"fontWeight":"bold","color":"#111111","align":"left","baseline":"alphabetic"},
   "encoding":{"x":{"datum":1040,"type":"quantitative","scale":{"domain":[1059,1292],"nice":false,"zero":false},"axis":null},"y":{"datum":28,"type":"quantitative","scale":{"domain":[0,205],"nice":false,"zero":false,"reverse":true},"axis":null}}}
 ]},
{"width":232,"height":185,
 "title":{"text":"C","dx":-83,"dy":9,"offset":8},
 "resolve":{"axis":{"x":"independent","y":"independent"}},
 "layer":[
  {"data":{"name":"lnnT"},"mark":{"type":"area","color":"#4a4a4a","interpolate":"monotone"},
   "encoding":{
    "x":{"field":"t","type":"quantitative","scale":{"type":"log","domain":[0.12,800],"nice":false},
     "axis":{"orient":"bottom","values":[0.2,0.3,0.4,0.5,0.6,0.7,0.8,0.9,1,2,3,4,5,6,7,8,9,10,20,30,40,50,60,70,80,90,100,200,300,400,500,600,700,800],"format":"~g","labelFlush":false,"labelOverlap":false,
      "labelExpr":"abs(log(datum.value)/LN10-round(log(datum.value)/LN10))<0.001 ? datum.label : ''",
      "tickSize":{"condition":{"test":"abs(log(datum.value)/LN10-round(log(datum.value)/LN10))<0.001","value":-6},"value":-3},
      "labelPadding":24,"title":"Time [γₕ-γₗ]⁻¹","titlePadding":3}},
    "y":{"field":"v","type":"quantitative","scale":{"domain":[0,0.15],"nice":false,"zero":false},
     "axis":{"orient":"left","values":[0,0.01,0.02,0.03,0.04,0.05,0.06,0.07,0.08,0.09,0.1,0.11,0.12,0.13,0.14,0.15],"format":".2f","labelOverlap":false,
      "labelExpr":"abs(datum.value*20-round(datum.value*20))<0.001 ? datum.label : ''",
      "tickSize":{"condition":{"test":"abs(datum.value*20-round(datum.value*20))<0.001","value":-6},"value":-3},
      "labelPadding":17,"title":"Fraction","titleFontSize":24,"titlePadding":12}}}},
  {"data":{"name":"cT"},"transform":[{"fold":["a","b","c","d","e","f","g","h","i","j","k","l"],"as":["s","v"]}],
   "mark":{"type":"line","color":"#3a3a3a","strokeWidth":1.2,"interpolate":"monotone"},
   "encoding":{
    "x":{"field":"t","type":"quantitative","scale":{"type":"log","domain":[0.12,800],"nice":false},
     "axis":{"orient":"top","values":[0.2,0.3,0.4,0.5,0.6,0.7,0.8,0.9,1,2,3,4,5,6,7,8,9,10,20,30,40,50,60,70,80,90,100,200,300,400,500,600,700,800],"labels":false,
      "tickSize":{"condition":{"test":"abs(log(datum.value)/LN10-round(log(datum.value)/LN10))<0.001","value":-6},"value":-3},"title":null}},
    "y":{"field":"v","type":"quantitative","scale":{"domain":[0,0.15],"nice":false,"zero":false},
     "axis":{"orient":"right","values":[0,0.01,0.02,0.03,0.04,0.05,0.06,0.07,0.08,0.09,0.1,0.11,0.12,0.13,0.14,0.15],"labels":false,
      "tickSize":{"condition":{"test":"abs(datum.value*20-round(datum.value*20))<0.001","value":-6},"value":-3},"title":null}},
    "detail":{"field":"s","type":"nominal"}}},
  {"data":{"values":[{}]},"mark":{"type":"text","text":"ϕ","fontSize":23,"fontStyle":"italic","color":"#222222","align":"left","baseline":"middle"},
   "encoding":{"x":{"datum":0.167,"type":"quantitative","scale":{"type":"log","domain":[0.12,800],"nice":false},"axis":null},"y":{"datum":0.13,"type":"quantitative","scale":{"domain":[0,0.15],"nice":false,"zero":false},"axis":null}}},
  {"data":{"values":[{}]},"mark":{"type":"text","text":"= 0.01","fontSize":23,"color":"#222222","align":"left","baseline":"middle"},
   "encoding":{"x":{"datum":0.325,"type":"quantitative","scale":{"type":"log","domain":[0.12,800],"nice":false},"axis":null},"y":{"datum":0.13,"type":"quantitative","scale":{"domain":[0,0.15],"nice":false,"zero":false},"axis":null}}},
  {"data":{"values":[{}]},"mark":{"type":"text","text":"HNN","fontSize":20,"color":"#333333","align":"left","baseline":"middle"},
   "encoding":{"x":{"datum":0.167,"type":"quantitative","scale":{"type":"log","domain":[0.12,800],"nice":false},"axis":null},"y":{"datum":0.0676,"type":"quantitative","scale":{"domain":[0,0.15],"nice":false,"zero":false},"axis":null}}},
  {"data":{"values":[{}]},"mark":{"type":"text","text":"LNN","fontSize":20,"color":"#ffffff","align":"left","baseline":"middle"},
   "encoding":{"x":{"datum":0.157,"type":"quantitative","scale":{"type":"log","domain":[0.12,800],"nice":false},"axis":null},"y":{"datum":0.0085,"type":"quantitative","scale":{"domain":[0,0.15],"nice":false,"zero":false},"axis":null}}},
  {"data":{"values":[{}]},"mark":{"type":"text","text":"1","fontSize":22,"fontWeight":"bold","fontStyle":"italic","color":"#222222","align":"center","baseline":"middle"},
   "encoding":{"x":{"datum":275,"type":"quantitative","scale":{"type":"log","domain":[0.12,800],"nice":false},"axis":null},"y":{"datum":0.1257,"type":"quantitative","scale":{"domain":[0,0.15],"nice":false,"zero":false},"axis":null}}},
  {"data":{"values":[{}]},"mark":{"type":"text","text":"2","fontSize":22,"fontWeight":"bold","fontStyle":"italic","color":"#222222","align":"center","baseline":"middle"},
   "encoding":{"x":{"datum":275,"type":"quantitative","scale":{"type":"log","domain":[0.12,800],"nice":false},"axis":null},"y":{"datum":0.0892,"type":"quantitative","scale":{"domain":[0,0.15],"nice":false,"zero":false},"axis":null}}},
  {"data":{"values":[{}]},"mark":{"type":"text","text":"3","fontSize":22,"fontWeight":"bold","fontStyle":"italic","color":"#222222","align":"center","baseline":"middle"},
   "encoding":{"x":{"datum":275,"type":"quantitative","scale":{"type":"log","domain":[0.12,800],"nice":false},"axis":null},"y":{"datum":0.058,"type":"quantitative","scale":{"domain":[0,0.15],"nice":false,"zero":false},"axis":null}}},
  {"data":{"values":[{}]},"mark":{"type":"text","text":"4","fontSize":22,"fontWeight":"bold","fontStyle":"italic","color":"#222222","align":"center","baseline":"middle"},
   "encoding":{"x":{"datum":275,"type":"quantitative","scale":{"type":"log","domain":[0.12,800],"nice":false},"axis":null},"y":{"datum":0.023,"type":"quantitative","scale":{"domain":[0,0.15],"nice":false,"zero":false},"axis":null}}}
 ]},
{"width":233,"height":185,
 "title":{"text":"D","dx":-1,"dy":9,"offset":8},
 "resolve":{"axis":{"x":"independent","y":"independent"}},
 "layer":[
  {"data":{"name":"dP"},"transform":[{"fold":["c1","c2","c3","c4"],"as":["s","v"]}],
   "mark":{"type":"line","color":"#444444","strokeWidth":1.2,"interpolate":"monotone"},
   "encoding":{
    "x":{"field":"p","type":"quantitative","scale":{"type":"log","domain":[0.01,100],"nice":false},
     "axis":{"orient":"bottom","values":[0.01,0.02,0.03,0.04,0.05,0.06,0.07,0.08,0.09,0.1,0.2,0.3,0.4,0.5,0.6,0.7,0.8,0.9,1,2,3,4,5,6,7,8,9,10,20,30,40,50,60,70,80,90,100],"format":"~g","labelFlush":false,"labelOverlap":false,
      "labelExpr":"abs(log(datum.value)/LN10-round(log(datum.value)/LN10))<0.001 ? datum.label : ''",
      "labelAlign":{"condition":{"test":"datum.value < 0.011","value":"left"},"value":"center"},
      "tickSize":{"condition":{"test":"abs(log(datum.value)/LN10-round(log(datum.value)/LN10))<0.001","value":-6},"value":-3},
      "labelPadding":24,"title":"Flipping rate (ϕ)","titlePadding":5}},
    "y":{"field":"v","type":"quantitative","scale":{"domain":[0,0.15],"nice":false,"zero":false},
     "axis":{"orient":"left","values":[0,0.01,0.02,0.03,0.04,0.05,0.06,0.07,0.08,0.09,0.1,0.11,0.12,0.13,0.14,0.15],"labels":false,
      "tickSize":{"condition":{"test":"abs(datum.value*20-round(datum.value*20))<0.001","value":-6},"value":-3},"title":null}},
    "detail":{"field":"s","type":"nominal"}}},
  {"data":{"name":"lnnP"},"transform":[{"fold":["l1","l2","l3","l4","l5","l6"],"as":["s","v"]}],
   "mark":{"type":"line","color":"#444444","strokeWidth":1.2,"interpolate":"monotone"},
   "encoding":{
    "x":{"field":"p","type":"quantitative","scale":{"type":"log","domain":[0.01,100],"nice":false},
     "axis":{"orient":"top","values":[0.01,0.02,0.03,0.04,0.05,0.06,0.07,0.08,0.09,0.1,0.2,0.3,0.4,0.5,0.6,0.7,0.8,0.9,1,2,3,4,5,6,7,8,9,10,20,30,40,50,60,70,80,90,100],"labels":false,
      "tickSize":{"condition":{"test":"abs(log(datum.value)/LN10-round(log(datum.value)/LN10))<0.001","value":-6},"value":-3},"title":null}},
    "y":{"field":"v","type":"quantitative","scale":{"domain":[0,0.15],"nice":false,"zero":false},
     "axis":{"orient":"right","values":[0,0.01,0.02,0.03,0.04,0.05,0.06,0.07,0.08,0.09,0.1,0.11,0.12,0.13,0.14,0.15],"labels":false,
      "tickSize":{"condition":{"test":"abs(datum.value*20-round(datum.value*20))<0.001","value":-6},"value":-3},"title":null}},
    "detail":{"field":"s","type":"nominal"}}},
  {"data":{"values":[{}]},"mark":{"type":"text","text":"t","fontSize":23,"fontStyle":"italic","color":"#222222","align":"left","baseline":"middle"},
   "encoding":{"x":{"datum":6.5,"type":"quantitative","scale":{"type":"log","domain":[0.01,100],"nice":false},"axis":null},"y":{"datum":0.13,"type":"quantitative","scale":{"domain":[0,0.15],"nice":false,"zero":false},"axis":null}}},
  {"data":{"values":[{}]},"mark":{"type":"text","text":"→∞","fontSize":23,"color":"#222222","align":"left","baseline":"middle"},
   "encoding":{"x":{"datum":10.9,"type":"quantitative","scale":{"type":"log","domain":[0.01,100],"nice":false},"axis":null},"y":{"datum":0.13,"type":"quantitative","scale":{"domain":[0,0.15],"nice":false,"zero":false},"axis":null}}},
  {"data":{"values":[{}]},"mark":{"type":"point","shape":"triangle-left","filled":true,"color":"#8a8a8a","size":220,"opacity":1},
   "encoding":{"x":{"datum":140,"type":"quantitative","scale":{"type":"log","domain":[0.01,100],"nice":false},"axis":null},"y":{"datum":0.02083,"type":"quantitative","scale":{"domain":[0,0.15],"nice":false,"zero":false},"axis":null}}},
  {"data":{"values":[{}]},"mark":{"type":"text","text":"1/48","fontSize":20,"color":"#333333","align":"left","baseline":"middle"},
   "encoding":{"x":{"datum":195,"type":"quantitative","scale":{"type":"log","domain":[0.01,100],"nice":false},"axis":null},"y":{"datum":0.02083,"type":"quantitative","scale":{"domain":[0,0.15],"nice":false,"zero":false},"axis":null}}}
 ]},
{"width":233,"height":185,
 "title":{"text":"G","dx":-89,"dy":9,"offset":8},
 "resolve":{"axis":{"x":"independent","y":"independent"}},
 "layer":[
  {"data":{"name":"lnnT"},"mark":{"type":"area","color":"#4a4a4a","interpolate":"monotone"},
   "encoding":{
    "x":{"field":"t","type":"quantitative","scale":{"type":"log","domain":[0.12,800],"nice":false},
     "axis":{"orient":"bottom","values":[0.2,0.3,0.4,0.5,0.6,0.7,0.8,0.9,1,2,3,4,5,6,7,8,9,10,20,30,40,50,60,70,80,90,100,200,300,400,500,600,700,800],"format":"~g","labelFlush":false,"labelOverlap":false,
      "labelExpr":"abs(log(datum.value)/LN10-round(log(datum.value)/LN10))<0.001 ? datum.label : ''",
      "tickSize":{"condition":{"test":"abs(log(datum.value)/LN10-round(log(datum.value)/LN10))<0.001","value":-6},"value":-3},
      "labelPadding":24,"title":"Time [γₕ-γₗ]⁻¹","titlePadding":3}},
    "y":{"field":"v","type":"quantitative","scale":{"domain":[0,0.15],"nice":false,"zero":false},
     "axis":{"orient":"left","values":[0,0.01,0.02,0.03,0.04,0.05,0.06,0.07,0.08,0.09,0.1,0.11,0.12,0.13,0.14,0.15],"format":".2f","labelOverlap":false,
      "labelExpr":"abs(datum.value*20-round(datum.value*20))<0.001 ? datum.label : ''",
      "tickSize":{"condition":{"test":"abs(datum.value*20-round(datum.value*20))<0.001","value":-6},"value":-3},
      "labelPadding":17,"title":"Fraction","titleFontSize":24,"titlePadding":12}}}},
  {"data":{"name":"gT"},"transform":[{"fold":["a","b","c","d","e","f","g","h","i","j","k","l"],"as":["s","v"]}],
   "mark":{"type":"line","color":"#3a3a3a","strokeWidth":1.2,"interpolate":"monotone"},
   "encoding":{
    "x":{"field":"t","type":"quantitative","scale":{"type":"log","domain":[0.12,800],"nice":false},
     "axis":{"orient":"top","values":[0.2,0.3,0.4,0.5,0.6,0.7,0.8,0.9,1,2,3,4,5,6,7,8,9,10,20,30,40,50,60,70,80,90,100,200,300,400,500,600,700,800],"labels":false,
      "tickSize":{"condition":{"test":"abs(log(datum.value)/LN10-round(log(datum.value)/LN10))<0.001","value":-6},"value":-3},"title":null}},
    "y":{"field":"v","type":"quantitative","scale":{"domain":[0,0.15],"nice":false,"zero":false},
     "axis":{"orient":"right","values":[0,0.01,0.02,0.03,0.04,0.05,0.06,0.07,0.08,0.09,0.1,0.11,0.12,0.13,0.14,0.15],"labels":false,
      "tickSize":{"condition":{"test":"abs(datum.value*20-round(datum.value*20))<0.001","value":-6},"value":-3},"title":null}},
    "detail":{"field":"s","type":"nominal"}}},
  {"data":{"values":[{}]},"mark":{"type":"text","text":"ϕ","fontSize":23,"fontStyle":"italic","color":"#222222","align":"left","baseline":"middle"},
   "encoding":{"x":{"datum":0.169,"type":"quantitative","scale":{"type":"log","domain":[0.12,800],"nice":false},"axis":null},"y":{"datum":0.13,"type":"quantitative","scale":{"domain":[0,0.15],"nice":false,"zero":false},"axis":null}}},
  {"data":{"values":[{}]},"mark":{"type":"text","text":"= 0.01","fontSize":23,"color":"#222222","align":"left","baseline":"middle"},
   "encoding":{"x":{"datum":0.325,"type":"quantitative","scale":{"type":"log","domain":[0.12,800],"nice":false},"axis":null},"y":{"datum":0.13,"type":"quantitative","scale":{"domain":[0,0.15],"nice":false,"zero":false},"axis":null}}},
  {"data":{"values":[{}]},"mark":{"type":"text","text":"HNN","fontSize":20,"color":"#333333","align":"left","baseline":"middle"},
   "encoding":{"x":{"datum":0.16,"type":"quantitative","scale":{"type":"log","domain":[0.12,800],"nice":false},"axis":null},"y":{"datum":0.0676,"type":"quantitative","scale":{"domain":[0,0.15],"nice":false,"zero":false},"axis":null}}},
  {"data":{"values":[{}]},"mark":{"type":"text","text":"LNN","fontSize":20,"color":"#ffffff","align":"left","baseline":"middle"},
   "encoding":{"x":{"datum":0.17,"type":"quantitative","scale":{"type":"log","domain":[0.12,800],"nice":false},"axis":null},"y":{"datum":0.0085,"type":"quantitative","scale":{"domain":[0,0.15],"nice":false,"zero":false},"axis":null}}},
  {"data":{"values":[{}]},"mark":{"type":"text","text":"1","fontSize":22,"fontWeight":"bold","fontStyle":"italic","color":"#222222","align":"center","baseline":"middle"},
   "encoding":{"x":{"datum":65,"type":"quantitative","scale":{"type":"log","domain":[0.12,800],"nice":false},"axis":null},"y":{"datum":0.1122,"type":"quantitative","scale":{"domain":[0,0.15],"nice":false,"zero":false},"axis":null}}},
  {"data":{"values":[{}]},"mark":{"type":"text","text":"2","fontSize":22,"fontWeight":"bold","fontStyle":"italic","color":"#222222","align":"center","baseline":"middle"},
   "encoding":{"x":{"datum":123,"type":"quantitative","scale":{"type":"log","domain":[0.12,800],"nice":false},"axis":null},"y":{"datum":0.058,"type":"quantitative","scale":{"domain":[0,0.15],"nice":false,"zero":false},"axis":null}}},
  {"data":{"values":[{}]},"mark":{"type":"text","text":"3","fontSize":22,"fontWeight":"bold","fontStyle":"italic","color":"#222222","align":"center","baseline":"middle"},
   "encoding":{"x":{"datum":84,"type":"quantitative","scale":{"type":"log","domain":[0.12,800],"nice":false},"axis":null},"y":{"datum":0.0148,"type":"quantitative","scale":{"domain":[0,0.15],"nice":false,"zero":false},"axis":null}}}
 ]},
{"width":233,"height":185,
 "title":{"text":"H","dx":-21,"dy":9,"offset":8},
 "resolve":{"axis":{"x":"independent","y":"independent"}},
 "layer":[
  {"data":{"name":"hP"},"transform":[{"fold":["c1","c2a","c2b","c3a","c3b"],"as":["s","v"]}],
   "mark":{"type":"line","color":"#444444","strokeWidth":1.2,"interpolate":"monotone"},
   "encoding":{
    "x":{"field":"p","type":"quantitative","scale":{"type":"log","domain":[0.01,100],"nice":false},
     "axis":{"orient":"bottom","values":[0.01,0.02,0.03,0.04,0.05,0.06,0.07,0.08,0.09,0.1,0.2,0.3,0.4,0.5,0.6,0.7,0.8,0.9,1,2,3,4,5,6,7,8,9,10,20,30,40,50,60,70,80,90,100],"format":"~g","labelFlush":false,"labelOverlap":false,
      "labelExpr":"abs(log(datum.value)/LN10-round(log(datum.value)/LN10))<0.001 ? datum.label : ''",
      "labelAlign":{"condition":{"test":"datum.value < 0.011","value":"left"},"value":"center"},
      "tickSize":{"condition":{"test":"abs(log(datum.value)/LN10-round(log(datum.value)/LN10))<0.001","value":-6},"value":-3},
      "labelPadding":24,"title":"Flipping rate (ϕ)","titlePadding":5}},
    "y":{"field":"v","type":"quantitative","scale":{"domain":[0,0.15],"nice":false,"zero":false},
     "axis":{"orient":"left","values":[0,0.01,0.02,0.03,0.04,0.05,0.06,0.07,0.08,0.09,0.1,0.11,0.12,0.13,0.14,0.15],"labels":false,
      "tickSize":{"condition":{"test":"abs(datum.value*20-round(datum.value*20))<0.001","value":-6},"value":-3},"title":null}},
    "detail":{"field":"s","type":"nominal"}}},
  {"data":{"name":"lnnP"},"transform":[{"fold":["l1","l2","l3","l4","l5","l6"],"as":["s","v"]}],
   "mark":{"type":"line","color":"#444444","strokeWidth":1.2,"interpolate":"monotone"},
   "encoding":{
    "x":{"field":"p","type":"quantitative","scale":{"type":"log","domain":[0.01,100],"nice":false},
     "axis":{"orient":"top","values":[0.01,0.02,0.03,0.04,0.05,0.06,0.07,0.08,0.09,0.1,0.2,0.3,0.4,0.5,0.6,0.7,0.8,0.9,1,2,3,4,5,6,7,8,9,10,20,30,40,50,60,70,80,90,100],"labels":false,
      "tickSize":{"condition":{"test":"abs(log(datum.value)/LN10-round(log(datum.value)/LN10))<0.001","value":-6},"value":-3},"title":null}},
    "y":{"field":"v","type":"quantitative","scale":{"domain":[0,0.15],"nice":false,"zero":false},
     "axis":{"orient":"right","values":[0,0.01,0.02,0.03,0.04,0.05,0.06,0.07,0.08,0.09,0.1,0.11,0.12,0.13,0.14,0.15],"labels":false,
      "tickSize":{"condition":{"test":"abs(datum.value*20-round(datum.value*20))<0.001","value":-6},"value":-3},"title":null}},
    "detail":{"field":"s","type":"nominal"}}},
  {"data":{"values":[{}]},"mark":{"type":"text","text":"t","fontSize":23,"fontStyle":"italic","color":"#222222","align":"left","baseline":"middle"},
   "encoding":{"x":{"datum":6.5,"type":"quantitative","scale":{"type":"log","domain":[0.01,100],"nice":false},"axis":null},"y":{"datum":0.129,"type":"quantitative","scale":{"domain":[0,0.15],"nice":false,"zero":false},"axis":null}}},
  {"data":{"values":[{}]},"mark":{"type":"text","text":"→∞","fontSize":23,"color":"#222222","align":"left","baseline":"middle"},
   "encoding":{"x":{"datum":10.9,"type":"quantitative","scale":{"type":"log","domain":[0.01,100],"nice":false},"axis":null},"y":{"datum":0.129,"type":"quantitative","scale":{"domain":[0,0.15],"nice":false,"zero":false},"axis":null}}},
  {"data":{"values":[{}]},"mark":{"type":"point","shape":"triangle-left","filled":true,"color":"#8a8a8a","size":220,"opacity":1},
   "encoding":{"x":{"datum":140,"type":"quantitative","scale":{"type":"log","domain":[0.01,100],"nice":false},"axis":null},"y":{"datum":0.02083,"type":"quantitative","scale":{"domain":[0,0.15],"nice":false,"zero":false},"axis":null}}},
  {"data":{"values":[{}]},"mark":{"type":"text","text":"1/48","fontSize":20,"color":"#333333","align":"left","baseline":"middle"},
   "encoding":{"x":{"datum":195,"type":"quantitative","scale":{"type":"log","domain":[0.01,100],"nice":false},"axis":null},"y":{"datum":0.02083,"type":"quantitative","scale":{"domain":[0,0.15],"nice":false,"zero":false},"axis":null}}}
 ]}
]
}
